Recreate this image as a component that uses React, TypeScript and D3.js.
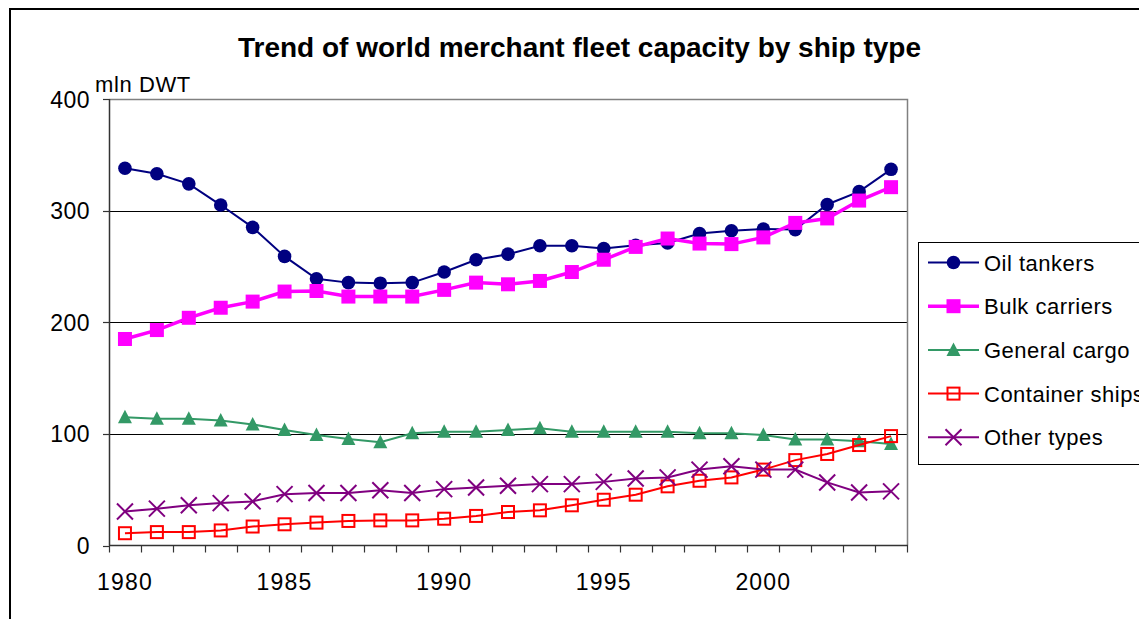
import React from "react";
import * as d3 from "d3";

const years = [1980,1981,1982,1983,1984,1985,1986,1987,1988,1989,1990,1991,1992,1993,1994,1995,1996,1997,1998,1999,2000,2001,2002,2003,2004];
const oilTankers = [338,333,324,305,285,259,239,235.5,235,235.5,245,256,261,268.5,268.5,266,269,271,279.5,282,283.5,283,305.5,317,337];
const bulkCarriers = [185,193,204,213,218.5,227.5,228,223,223,223,229,235.5,234,237,245,256,267.5,275,270.5,270,276,289,293,309,321];
const generalCargo = [115,113.5,113.5,112,108.5,103.5,99,95.5,92.5,100.5,102,102,103.5,105,102,102,102,102,100.5,100.5,99,95,95,93.5,91];
const containerShips = [11,12,12,13.5,17,19,20.5,22,22.5,22.5,24,26.5,30,31.5,36,41,45.5,53,58,61,68,76.5,82,90,98];
const otherTypes = [30.5,33,36,38,39.5,46,47,47,49.5,47,50.5,52,53.5,55,55,57,60,61,68,71,68,68,56.5,47.5,48.5];
const yTicks = [0,100,200,300,400];
const xLabels = [1980,1985,1990,1995,2000];

type Marker = "circle" | "square" | "triangle" | "openSquare" | "x";
const series: { name: string; values: number[]; color: string; width: number; marker: Marker }[] = [
  { name: "Oil tankers", values: oilTankers, color: "#000080", width: 2, marker: "circle" },
  { name: "Bulk carriers", values: bulkCarriers, color: "#FF00FF", width: 3.5, marker: "square" },
  { name: "General cargo", values: generalCargo, color: "#339966", width: 2, marker: "triangle" },
  { name: "Container ships", values: containerShips, color: "#FF0000", width: 2, marker: "openSquare" },
  { name: "Other types", values: otherTypes, color: "#800080", width: 2, marker: "x" },
];

const FONT = "Arial, 'Liberation Sans', sans-serif";

function MarkerShape({ type, x, y, color }: { type: Marker; x: number; y: number; color: string }) {
  switch (type) {
    case "circle":
      return <circle cx={x} cy={y} r={6.8} fill={color} />;
    case "square":
      return <rect x={x - 7} y={y - 7} width={14} height={14} fill={color} />;
    case "triangle":
      return <path d={`M${x},${y - 7.5}L${x + 7},${y + 6}L${x - 7},${y + 6}Z`} fill={color} />;
    case "openSquare":
      return <rect x={x - 6} y={y - 6} width={12} height={12} fill="none" stroke={color} strokeWidth={2} />;
    case "x":
      return (
        <path d={`M${x - 8},${y - 8}L${x + 8},${y + 8}M${x - 8},${y + 8}L${x + 8},${y - 8}`} stroke={color} strokeWidth={2} fill="none" />
      );
  }
}

export default function App() {
  const W = 1139, H = 619;
  const left = 109, right = 907, top = 99, bottom = 545.5;
  const x = d3.scaleBand<number>().domain(years).range([left, right]).padding(0);
  const bw = x.bandwidth();
  const cx = (yr: number) => (x(yr) as number) + bw / 2;
  const y = d3.scaleLinear().domain([0, 400]).range([bottom, top]);
  const line = d3.line<number>().x((_, i) => cx(years[i])).y((v) => y(v));
  const boundaries = years.map((yr) => x(yr) as number).concat([right]);

  const legendX = 918, legendTop = 242, legendBottom = 464;
  const legendRows = [262.5, 306.2, 349.9, 393.6, 437.3];

  return (
    <svg width={W} height={H} style={{ position: "absolute", left: 0, top: 0, background: "#fff" }} fontFamily={FONT}>
      <rect x={0} y={0} width={W} height={H} fill="#fff" />
      {/* outer frame */}
      <path d={`M10,${H + 5}V9H${W + 5}`} fill="none" stroke="#000" strokeWidth={2} />
      {/* title */}
      <text x={579.5} y={57} textAnchor="middle" fontSize={28} fontWeight="bold" fill="#000">
        Trend of world merchant fleet capacity by ship type
      </text>
      <text x={95} y={91.5} fontSize={22} letterSpacing={0.6} fill="#000">mln DWT</text>
      {/* gridlines */}
      {yTicks.filter((t) => t > 0 && t < 400).map((t) => (
        <line key={t} x1={left} x2={right} y1={Math.round(y(t)) + 0.5} y2={Math.round(y(t)) + 0.5} stroke="#000" strokeWidth={1} />
      ))}
      {/* plot border */}
      <path d={`M${left},${top + 0.5}H${right + 0.5}V${bottom}`} fill="none" stroke="#808080" strokeWidth={1.5} />
      {/* axes */}
      <line x1={left + 0.5} x2={left + 0.5} y1={top} y2={bottom} stroke="#333" strokeWidth={1.5} />
      <line x1={left} x2={right + 1} y1={bottom} y2={bottom} stroke="#333" strokeWidth={1.5} />
      {yTicks.map((t) => (
        <g key={t}>
          <line x1={left - 6} x2={left} y1={Math.round(y(t)) + 0.5} y2={Math.round(y(t)) + 0.5} stroke="#333" strokeWidth={1.2} />
          <text x={90} y={y(t) + 8.5} textAnchor="end" fontSize={23} letterSpacing={0.5} fill="#000">{t}</text>
        </g>
      ))}
      {boundaries.map((b, i) => (
        <line key={i} x1={Math.round(b) + 0.5} x2={Math.round(b) + 0.5} y1={bottom} y2={bottom + 7} stroke="#333" strokeWidth={1.2} />
      ))}
      {xLabels.map((yr) => (
        <text key={yr} x={cx(yr)} y={590} textAnchor="middle" fontSize={23} letterSpacing={1.2} fill="#000">{yr}</text>
      ))}
      {/* series */}
      {series.map((s) => (
        <g key={s.name}>
          <path d={line(s.values) || ""} fill="none" stroke={s.color} strokeWidth={s.width} />
          {s.values.map((v, i) => (
            <MarkerShape key={i} type={s.marker} x={cx(years[i])} y={y(v)} color={s.color} />
          ))}
        </g>
      ))}
      {/* legend */}
      <rect x={legendX + 0.5} y={legendTop + 0.5} width={W} height={legendBottom - legendTop} fill="#fff" stroke="#000" strokeWidth={1} />
      {series.map((s, i) => (
        <g key={s.name}>
          <line x1={928} x2={979} y1={legendRows[i]} y2={legendRows[i]} stroke={s.color} strokeWidth={s.width} />
          <MarkerShape type={s.marker} x={953.5} y={legendRows[i]} color={s.color} />
          <text x={984} y={legendRows[i] + 8} fontSize={22} letterSpacing={0.5} fill="#000">{s.name}</text>
        </g>
      ))}
    </svg>
  );
}
